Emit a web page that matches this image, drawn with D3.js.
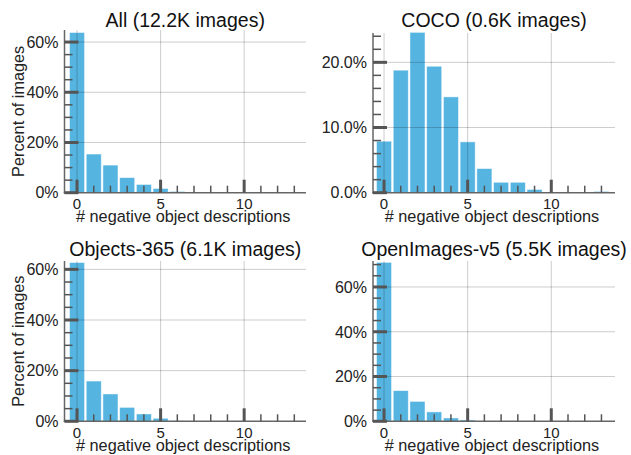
<!DOCTYPE html>
<html>
<head>
<meta charset="utf-8">
<script src="https://cdn.jsdelivr.net/npm/d3@7"></script>
<style>
  html, body { margin: 0; padding: 0; background: #fff; }
  svg { display: block; font-family: "Liberation Sans", Arial, sans-serif; }
</style>
</head>
<body>
<svg id="chart" width="631" height="455"></svg>
<script>
// ---- data ----
const categories = [0, 1, 2, 3, 4, 5, 6, 7, 8, 9, 10, 11, 12, 13];
const titles = ["All (12.2K images)", "COCO (0.6K images)", "Objects-365 (6.1K images)", "OpenImages-v5 (5.5K images)"];
const allValues = [63.8, 15.4, 11.0, 6.0, 3.3, 1.7, 0.5, 0.1, 0, 0, 0, 0, 0, 0];
const cocoValues = [7.9, 18.8, 24.6, 19.4, 14.7, 7.8, 3.7, 1.6, 1.6, 0.5, 0, 0, 0, 0.2];
const objectsValues = [62.7, 15.9, 10.8, 5.5, 2.9, 1.2, 0.2, 0.05, 0, 0, 0, 0, 0, 0];
const openImagesValues = [71.0, 13.7, 8.9, 4.2, 1.5, 0.6, 0.1, 0, 0, 0, 0, 0, 0, 0];
const xMajorTicks = [0, 5, 10];
const xLabel = "# negative object descriptions";
const yLabel = "Percent of images";

// ---- layout ----
const layout = [
  { vals: allValues, x0: 64.5, x1: 306, y0: 30, y1: 192.7, xd: [-0.75, 13.7], ymax: 64.8, major: 20, minor: 5, fmt: d => d + "%", ylab: true },
  { vals: cocoValues, x0: 373, x1: 615, y0: 33, y1: 192.7, xd: [-0.66, 13.81], ymax: 24.5, major: 10, minor: 2, fmt: d => d.toFixed(1) + "%", ylab: false },
  { vals: objectsValues, x0: 64.5, x1: 306, y0: 261, y1: 421.3, xd: [-0.75, 13.7], ymax: 63.3, major: 20, minor: 5, fmt: d => d + "%", ylab: true },
  { vals: openImagesValues, x0: 373, x1: 615, y0: 261, y1: 421.3, xd: [-0.66, 13.81], ymax: 71.6, major: 20, minor: 5, fmt: d => d + "%", ylab: false }
];

const svg = d3.select("#chart");
const barColor = "#56b4e1";
const tickColor = "#555";
const spineColor = "#666";
const gridColor = "rgba(0,0,0,0.2)";

layout.forEach((p, i) => {
  const x = d3.scaleLinear().domain(p.xd).range([p.x0, p.x1]);
  const y = d3.scaleLinear().domain([0, p.ymax]).range([p.y1, p.y0]);
  const g = svg.append("g");
  const unit = x(1) - x(0);
  const bw = 0.9 * unit;

  // bars
  g.selectAll("rect.bar").data(categories.map((c, k) => ({ c, v: p.vals[k] })).filter(d => d.v > 0))
    .join("rect")
    .attr("x", d => x(d.c) - bw / 2)
    .attr("width", bw)
    .attr("y", d => y(d.v))
    .attr("height", d => y(0) - y(d.v))
    .attr("fill", barColor)
    .attr("stroke", "#fff")
    .attr("stroke-opacity", 0.6)
    .attr("stroke-width", 0.8);

  // grid
  const yMajors = d3.range(p.major, p.ymax + 1e-9, p.major);
  g.selectAll("line.hg").data(yMajors).join("line")
    .attr("x1", p.x0).attr("x2", p.x1)
    .attr("y1", d => y(d)).attr("y2", d => y(d))
    .attr("stroke", gridColor).attr("stroke-width", 1);
  g.selectAll("line.vg").data(xMajorTicks).join("line")
    .attr("x1", d => x(d)).attr("x2", d => x(d))
    .attr("y1", p.y0).attr("y2", p.y1)
    .attr("stroke", gridColor).attr("stroke-width", 1);

  // spines
  g.append("line").attr("x1", p.x0).attr("x2", p.x0).attr("y1", p.y0).attr("y2", p.y1 + 0.75)
    .attr("stroke", spineColor).attr("stroke-width", 1.5);
  g.append("line").attr("x1", p.x0 - 0.75).attr("x2", p.x1).attr("y1", p.y1).attr("y2", p.y1)
    .attr("stroke", spineColor).attr("stroke-width", 1.5);

  // y ticks
  const yMinors = d3.range(0, p.ymax + 1e-9, p.minor).filter(v => Math.abs(v / p.major - Math.round(v / p.major)) > 1e-6);
  const yMaj0 = d3.range(0, p.ymax + 1e-9, p.major);
  g.selectAll("line.ymin").data(yMinors).join("line")
    .attr("x1", p.x0).attr("x2", p.x0 + 8)
    .attr("y1", d => y(d)).attr("y2", d => y(d))
    .attr("stroke", tickColor).attr("stroke-width", 1.5);
  g.selectAll("line.ymaj").data(yMaj0).join("line")
    .attr("x1", p.x0).attr("x2", p.x0 + 14)
    .attr("y1", d => y(d)).attr("y2", d => y(d))
    .attr("stroke", tickColor).attr("stroke-width", 3);
  g.selectAll("text.yt").data(yMaj0).join("text")
    .attr("x", p.x0 - 6).attr("y", d => y(d))
    .attr("dy", "0.36em")
    .attr("text-anchor", "end")
    .attr("font-size", 16)
    .attr("fill", "#222")
    .text(p.fmt);

  // x ticks
  const xMinors = categories.filter(c => !xMajorTicks.includes(c));
  g.selectAll("line.xmin").data(xMinors).join("line")
    .attr("x1", d => x(d)).attr("x2", d => x(d))
    .attr("y1", p.y1).attr("y2", p.y1 - 7)
    .attr("stroke", tickColor).attr("stroke-width", 1.5);
  g.selectAll("line.xmaj").data(xMajorTicks).join("line")
    .attr("x1", d => x(d)).attr("x2", d => x(d))
    .attr("y1", p.y1).attr("y2", p.y1 - 13)
    .attr("stroke", tickColor).attr("stroke-width", 3);
  g.selectAll("text.xt").data(xMajorTicks).join("text")
    .attr("x", d => x(d)).attr("y", p.y1 + 16.5)
    .attr("text-anchor", "middle")
    .attr("font-size", 15)
    .attr("fill", "#222")
    .text(d => d);

  // axis label
  g.append("text")
    .attr("x", (p.x0 + p.x1) / 2 - 2).attr("y", p.y1 + 29.3)
    .attr("text-anchor", "middle")
    .attr("font-size", 16.3)
    .attr("fill", "#222")
    .text(xLabel);
  if (p.ylab) {
    g.append("text")
      .attr("transform", `translate(${24},${(p.y0 + p.y1) / 2}) rotate(-90)`)
      .attr("text-anchor", "middle")
      .attr("font-size", 16.3)
      .attr("fill", "#222")
      .text(yLabel);
  }
  // title
  g.append("text")
    .attr("x", (p.x0 + p.x1) / 2).attr("y", i < 2 ? 26.7 : 255.5)
    .attr("text-anchor", "middle")
    .attr("font-size", 19.5)
    .attr("fill", "#111")
    .text(titles[i]);
});
</script>
</body>
</html>
